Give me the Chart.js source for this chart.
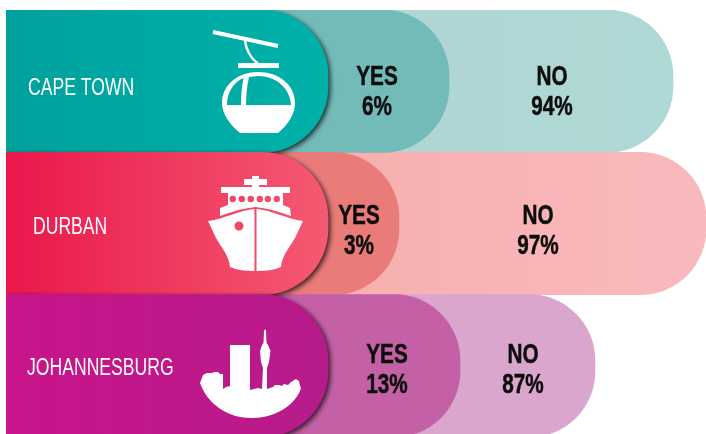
<!DOCTYPE html>
<html>
<head>
<meta charset="utf-8">
<title>Cities</title>
<script src="https://cdn.jsdelivr.net/npm/chart.js@4"></script>
<style>
    html, body { margin:0; padding:0; background:#fff; width:706px; height:434px; overflow:hidden; }
    canvas { display:block; }
</style>
</head>
<body>
<canvas id="cityChart" width="706" height="437"></canvas>
<script>
    // ── Data ──
    var cities = ['CAPE TOWN', 'DURBAN', 'JOHANNESBURG'];
    var yesShare = [6, 3, 13];
    var noShare = [94, 97, 87];
    // bar lengths, the artwork does not scale them to the shares
    var panelLength = [322, 322, 322];
    var yesLength = [443, 393, 454];
    var noLength = [667, 700, 589];

    // ── Colours ──
    var panelFrom = ['#00a19d', '#ea174c', '#c8148a'];
    var panelTo = ['#00b1aa', '#f45a72', '#b61b8a'];
    var yesColors = ['#72bbb9', '#e97b79', '#c460a6'];
    var noFrom = ['#b0d1d1', '#f6a5a2', '#dca6cc'];
    var noTo = ['#afd9d6', '#f9babd', '#dba6cd'];

    // ── Label layout (pixels) ──
    var cityX = [28, 33, 27];
    var cityY = [89, 228, 369];
    var yesX = [377, 359, 387];
    var noX = [552, 538, 523];
    var lineY = [77, 216, 355];
    var lineGap = 30;

    // ── Icons ──
    var carIcon = new Path2D(
        'M222 103 C222 85 238 72 258 72 C279 72 295 85 295 103 C295 113 289 124 278 133 L240 133 C229 124 222 113 222 103 Z' +
        'M227 105 C227 92 234 82 243.5 78 C241.5 87 241 97 241 105 Z' +
        'M246 105 C246 95 247 86 249 77 L258 76 C276 76 290 88 291 105 Z' +
        'M238 63 H279 V68 H238 Z');
    var shipIcon = new Path2D(
        'M252 176 H259 V179 H267 V185 H259 V187 H290 V193 H283 V205 L290 208 L291 216 C278 211 266 208 255.5 207 C245 208 233 211 220 216 L220 208 L228 205 V193 H221 V187 H252 V185 H244 V179 H252 Z' +
        'M236 199 a3.2 3.2 0 1 0 -6.4 0 a3.2 3.2 0 1 0 6.4 0 Z M245 199 a3.2 3.2 0 1 0 -6.4 0 a3.2 3.2 0 1 0 6.4 0 Z M254 199 a3.2 3.2 0 1 0 -6.4 0 a3.2 3.2 0 1 0 6.4 0 Z' +
        'M263 199 a3.2 3.2 0 1 0 -6.4 0 a3.2 3.2 0 1 0 6.4 0 Z M271 199 a3.2 3.2 0 1 0 -6.4 0 a3.2 3.2 0 1 0 6.4 0 Z M280 199 a3.2 3.2 0 1 0 -6.4 0 a3.2 3.2 0 1 0 6.4 0 Z' +
        'M208 221 C224 219 240 210 254.5 209 V271 C245 271 237 270 230 267 C229 255 221 247 216 238 Z' +
        'M243.5 226 a4.5 4.5 0 1 0 -9 0 a4.5 4.5 0 1 0 9 0 Z' +
        'M303 221 C287 219 271 210 256.5 209 V271 C266 271 274 270 281 267 C282 255 290 247 295 238 Z');
    var skylineIcon = new Path2D(
        'M200 383 L203 375 L207 373 L212 373 L214 372 L218 372 L220 374 L223 374 L223 389 L226 387 L230 386 L230 345 L250 345 L250 390 ' +
        'L258 388 L262 389 L263 368 L261 362 L260 351 L262 345 L263.5 343 L264 331 L265 329 L266 331 L266.5 343 L268 345 L270.5 351 L269 362 L267 368 L267 389 ' +
        'L273 387 L275 385 L279 385 L282 386 L284 384 L288 385 L291 382 L296 379 L299 381 L300 386 L301 388 C296 405 275 418 252 418 C228 418 208 405 200 383 Z');

    function rowGradient(ctx, from, to) {
        var chart = ctx.chart;
        var i = ctx.dataIndex;
        if (i === undefined) return from[0];
        var endX = chart.scales.x.getPixelForValue(ctx.dataset.data[i]);
        if (!isFinite(endX)) return from[i];
        var g = chart.ctx.createLinearGradient(6, 0, endX, 0);
        g.addColorStop(0, from[i]);
        g.addColorStop(1, to[i]);
        return g;
    }

    // shadow under the city panels
    var panelShadow = {
        id: 'panelShadow',
        beforeDatasetDraw: function(chart, args) {
            if (args.index !== 0) return;
            chart.ctx.save();
            chart.ctx.shadowColor = 'rgba(0,0,0,0.75)';
            chart.ctx.shadowBlur = 5;
            chart.ctx.shadowOffsetX = 2;
            chart.ctx.shadowOffsetY = 2;
        },
        afterDatasetDraw: function(chart, args) {
            if (args.index === 0) chart.ctx.restore();
        }
    };

    // no narrow face is installed, so squeeze the text sideways
    function narrowText(c, text, x, y, squeeze, weight) {
        c.save();
        c.translate(x, y);
        c.scale(squeeze, 1);
        if (weight) {
            c.lineWidth = weight;
            c.strokeStyle = c.fillStyle;
            c.strokeText(text, 0, 0);
        }
        c.fillText(text, 0, 0);
        c.restore();
    }

    var cityLabels = {
        id: 'cityLabels',
        afterDraw: function(chart) {
            var c = chart.ctx;
            c.save();
            c.fillStyle = '#ffffff';
            c.fill(carIcon, 'evenodd');
            c.fill(shipIcon, 'evenodd');
            c.fill(skylineIcon);
            c.strokeStyle = '#ffffff';
            c.lineWidth = 4;
            c.beginPath();
            c.moveTo(213, 32);
            c.lineTo(278, 46);
            c.stroke();
            c.lineWidth = 2.5;
            c.beginPath();
            c.moveTo(245, 40);
            c.quadraticCurveTo(246, 54, 258, 64);
            c.stroke();

            c.textBaseline = 'middle';
            c.textAlign = 'left';
            c.font = '23px "Liberation Sans"';
            cities.forEach(function(name, i) {
                narrowText(c, name, cityX[i], cityY[i], 0.765);
            });

            c.fillStyle = '#0d0d0d';
            c.textAlign = 'center';
            c.font = 'bold 28px "Liberation Sans"';
            cities.forEach(function(name, i) {
                narrowText(c, 'YES', yesX[i], lineY[i], 0.74, 0.5);
                narrowText(c, yesShare[i] + '%', yesX[i], lineY[i] + lineGap, 0.74, 0.5);
                narrowText(c, 'NO', noX[i], lineY[i], 0.74, 0.5);
                narrowText(c, noShare[i] + '%', noX[i], lineY[i] + lineGap, 0.74, 0.5);
            });
            c.restore();
        }
    };

    var roundEnd = { topLeft:0, bottomLeft:0, topRight:66, bottomRight:66 };

    new Chart(document.getElementById('cityChart'), {
        type: 'bar',
        data: {
            labels: cities,
            datasets: [
                {
                    label: 'City', data: panelLength, order: 1,
                    backgroundColor: function(ctx) { return rowGradient(ctx, panelFrom, panelTo); }
                },
                { label: 'Yes', data: yesLength, order: 2, backgroundColor: yesColors },
                {
                    label: 'No', data: noLength, order: 3,
                    backgroundColor: function(ctx) { return rowGradient(ctx, noFrom, noTo); }
                }
            ]
        },
        options: {
            indexAxis: 'y',
            responsive: false,
            animation: false,
            grouped: false,
            barPercentage: 1,
            categoryPercentage: 1,
            borderRadius: roundEnd,
            borderSkipped: false,
            layout: { padding: { left:6, right:0, top:10, bottom:0 } },
            plugins: { legend: { display:false }, tooltip: { enabled:false } },
            scales: {
                x: { display:false, min:0, max:700 },
                y: { display:false }
            }
        },
        plugins: [panelShadow, cityLabels]
    });
</script>
</body>
</html>
